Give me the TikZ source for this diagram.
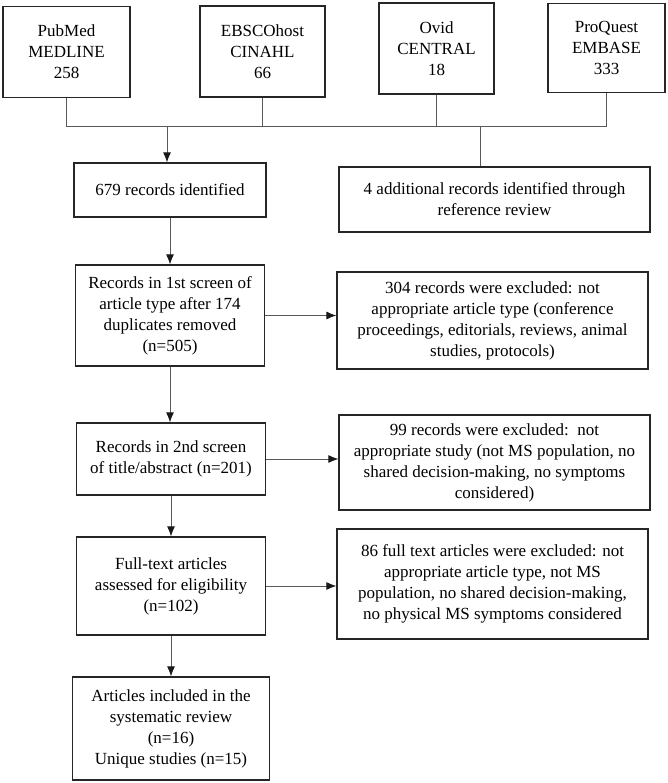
\documentclass[tikz,border=0pt]{standalone}
\usepackage{fontspec}
\setmainfont{Liberation Serif}
\usetikzlibrary{arrows.meta}

\begin{document}
\begin{tikzpicture}[x=1pt, y=-1pt,
    box/.style={draw=black!85, line width=1.3pt, align=center, inner sep=0pt,
      font=\fontsize{17}{21}\selectfont},
    line/.style={draw=black!65, line width=0.9pt},
    >={Latex[length=10pt,width=8pt,color=black!90]}]

    \useasboundingbox (0,0) rectangle (667,783);

    \node [box, minimum width=127pt, minimum height=91pt] (a) at (66.5, 52) {PubMed\\MEDLINE\\258};
    \node [box, minimum width=125pt, minimum height=91pt] (b) at (262.5, 51.5) {EBSCOhost\\CINAHL\\66};
    \node [box, minimum width=115pt, minimum height=91pt] (c) at (436.5, 48.5) {Ovid\\CENTRAL\\18};
    \node [box, minimum width=117pt, minimum height=89pt] (d) at (606.5, 48) {ProQuest\\EMBASE\\333};
    \node [box, minimum width=192pt, minimum height=54pt] (e) at (170, 190) {679 records identified};
    \node [box, minimum width=311pt, minimum height=65pt] (f) at (494.5, 199.5) {4 additional records identified through\\reference review};
    \node [box, minimum width=189pt, minimum height=101pt] (g) at (170, 315.5) {Records in 1st screen of\\article type after 174\\duplicates removed\\(n=505)};
    \node [box, minimum width=311pt, minimum height=97pt] (h) at (492.5, 320.5) {304 records were excluded: not\\appropriate article type (conference\\proceedings, editorials, reviews, animal\\studies, protocols)};
    \node [box, minimum width=189pt, minimum height=72pt] (i) at (171, 459) {Records in 2nd screen\\of title/abstract (n=201)};
    \node [box, minimum width=311pt, minimum height=95pt] (j) at (494.5, 462.5) {99 records were excluded:\ \ not\\appropriate study (not MS population, no\\shared decision-making, no symptoms\\considered)};
    \node [box, minimum width=189pt, minimum height=98pt] (k) at (171, 586) {Full-text articles\\assessed for eligibility\\(n=102)};
    \node [box, minimum width=311pt, minimum height=110pt] (l) at (492.5, 584) {86 full text articles were excluded: not\\appropriate article type, not MS\\population, no shared decision-making,\\no physical MS symptoms considered};
    \node [box, minimum width=197pt, minimum height=103pt] (m) at (171, 728.5) {Articles included in the\\systematic review\\(n=16)\\Unique studies (n=15)};

    \coordinate (p) at (167, 126);
    \coordinate (q) at (480, 126);

    \draw [line] (a) to (a |- p) -| (d);
    \draw [line] (b) to (b |- p);
    \draw [line] (c) to (c |- p);
    \draw [line, ->] (p) to (p |- e.north);
    \draw [line] (q) to (q |- f.north);
    \draw [line, ->] (e) to (e |- g.north);
    \draw [line, ->] (g) to (g -| h.west);
    \draw [line, ->] (g) to (g |- i.north);
    \draw [line, ->] (i) to (i -| j.west);
    \draw [line, ->] (i) to (i |- k.north);
    \draw [line, ->] (k) to (k -| l.west);
    \draw [line, ->] (k) to (k |- m.north);

\end{tikzpicture}
\end{document}
